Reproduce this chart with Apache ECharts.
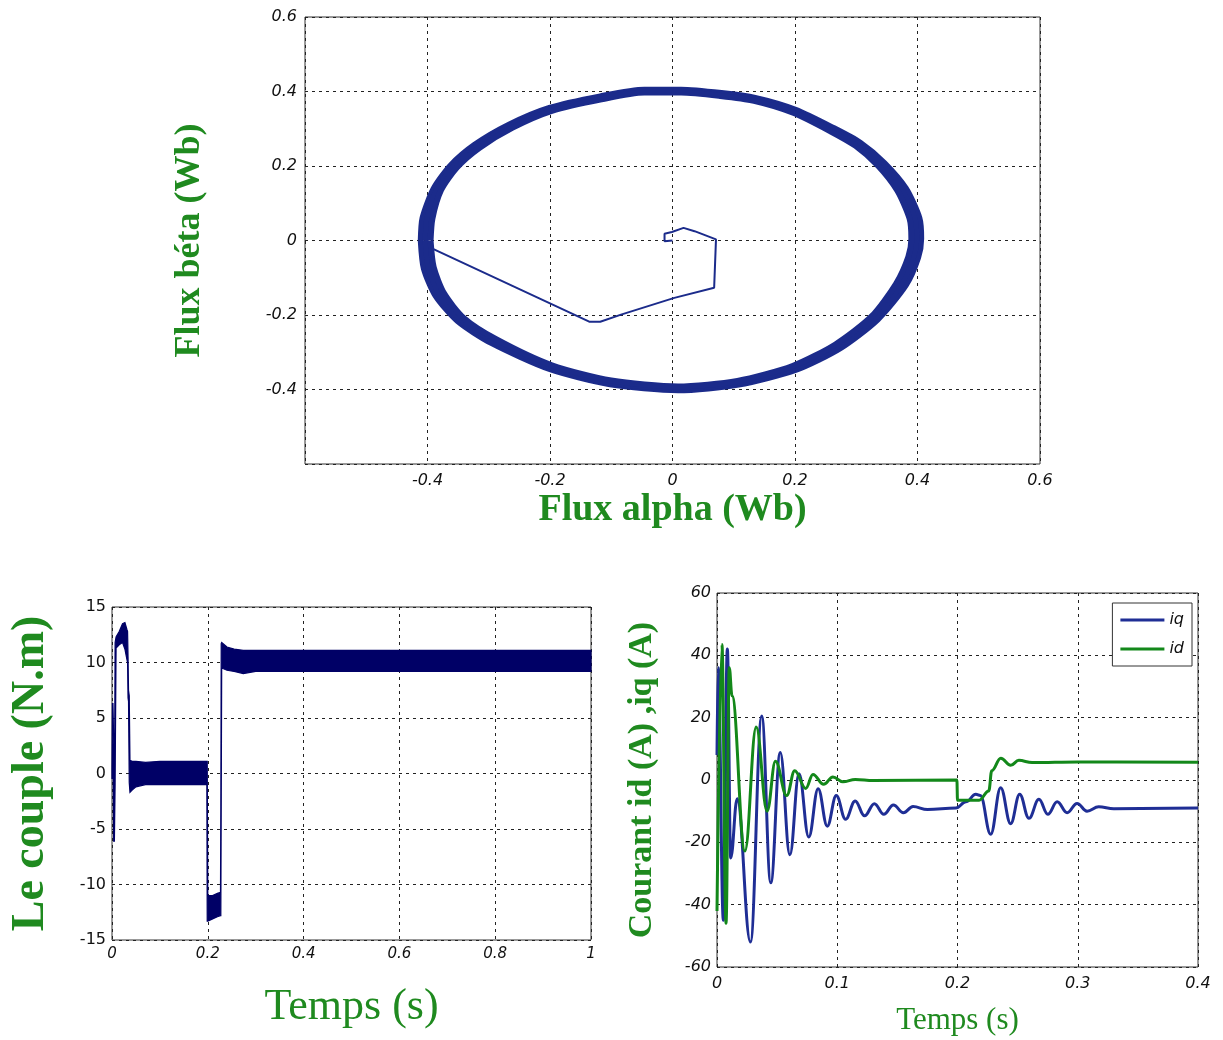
<!DOCTYPE html>
<html>
<head>
<meta charset="utf-8">
<title>Flux, couple et courants</title>
<script src="https://cdn.jsdelivr.net/npm/echarts@6/dist/echarts.min.js"></script>
<style>
  html, body { margin: 0; padding: 0; background: #ffffff; }
  #main { width: 1223px; height: 1040px; }
</style>
</head>
<body>
<div id="main"></div>
<script>
// ---- Stator flux trajectory (alpha, beta) in Wb ----
// start-up path from the origin until the flux reaches its circle
const fluxStart = [
  [0.000, 0.000], [-0.013, -0.002], [-0.013, 0.018], [-0.001, 0.023],
  [0.018, 0.034], [0.036, 0.025], [0.071, 0.003], [0.068, -0.127],
  [0.003, -0.154], [-0.084, -0.199], [-0.118, -0.218], [-0.136, -0.218],
  [-0.392, -0.022]
];
// steady-state flux ring: outer edge, centre line and inner edge
const fluxRingOuter = [
  [-0.411, 0.000], [-0.406, -0.075], [-0.387, -0.148], [-0.351, -0.216],
  [-0.296, -0.275], [-0.201, -0.345], [-0.102, -0.386], [0.009, -0.402],
  [0.108, -0.387], [0.202, -0.347], [0.274, -0.289], [0.335, -0.212],
  [0.381, -0.120], [0.401, -0.046], [0.406, 0.005], [0.403, 0.061],
  [0.381, 0.140], [0.346, 0.208], [0.307, 0.262], [0.263, 0.302],
  [0.201, 0.351], [0.135, 0.383], [0.080, 0.396], [0.014, 0.405],
  [-0.046, 0.405], [-0.118, 0.387], [-0.201, 0.356], [-0.267, 0.311],
  [-0.323, 0.257], [-0.362, 0.202], [-0.390, 0.139], [-0.408, 0.061],
  [-0.411, 0.000]
];
const fluxRingMid = [
  [-0.403, 0.000], [-0.398, -0.073], [-0.380, -0.145], [-0.346, -0.212],
  [-0.292, -0.270], [-0.199, -0.340], [-0.101, -0.381], [0.009, -0.397],
  [0.107, -0.382], [0.199, -0.342], [0.270, -0.284], [0.330, -0.208],
  [0.373, -0.118], [0.393, -0.045], [0.398, 0.005], [0.395, 0.060],
  [0.374, 0.137], [0.341, 0.204], [0.303, 0.258], [0.260, 0.298],
  [0.199, 0.347], [0.134, 0.379], [0.079, 0.392], [0.014, 0.401],
  [-0.046, 0.401], [-0.117, 0.383], [-0.199, 0.352], [-0.264, 0.307],
  [-0.319, 0.253], [-0.357, 0.199], [-0.384, 0.137], [-0.400, 0.060],
  [-0.403, 0.000]
];
const fluxRingInner = [
  [-0.395, 0.000], [-0.390, -0.071], [-0.373, -0.142], [-0.341, -0.208],
  [-0.288, -0.265], [-0.197, -0.335], [-0.100, -0.376], [0.009, -0.392],
  [0.106, -0.377], [0.196, -0.337], [0.266, -0.279], [0.325, -0.204],
  [0.365, -0.116], [0.385, -0.044], [0.390, 0.005], [0.387, 0.059],
  [0.367, 0.134], [0.336, 0.200], [0.299, 0.254], [0.257, 0.294],
  [0.197, 0.343], [0.133, 0.375], [0.078, 0.388], [0.014, 0.397],
  [-0.046, 0.397], [-0.116, 0.379], [-0.197, 0.348], [-0.261, 0.303],
  [-0.315, 0.249], [-0.352, 0.196], [-0.378, 0.135], [-0.392, 0.059],
  [-0.395, 0.000]
];

// ---- Electromagnetic torque (N.m): ripple band, lower and upper envelope ----
const torqueTime = [0, 0.001, 0.002, 0.0035, 0.005, 0.0065, 0.0085, 0.015, 0.022, 0.027,
  0.031, 0.0325, 0.0335, 0.0345, 0.036, 0.0375, 0.042, 0.05, 0.07, 0.1,
  0.198, 0.1988, 0.2, 0.21, 0.22, 0.2265, 0.2272, 0.228, 0.229, 0.24,
  0.255, 0.274, 0.3, 1.0];
const torqueLow = [-0.5, 1.5, 2.7, -6.1, -6.1, -1.0, 11.3, 11.6, 11.8, 11.2,
  10.3, 10.0, 6.8, 6.5, -0.8, -1.7, -1.5, -1.2, -1.0, -1.0,
  -1.0, -13.3, -13.3, -13.1, -12.9, -12.8, -12.8, -3.0, 9.5, 9.3,
  9.2, 9.0, 9.2, 9.2];
const torqueHigh = [0.5, 6.3, 6.3, 3.0, -4.0, 11.8, 12.3, 12.8, 13.5, 13.6,
  13.0, 12.8, 10.5, 7.5, 7.0, 1.2, 1.1, 1.1, 1.0, 1.1,
  1.1, 1.1, -11.0, -11.0, -10.8, -10.7, -3.0, 11.7, 11.8, 11.4,
  11.2, 11.1, 11.1, 11.1];

// ---- d-q currents (A) ----
const iqData = [
  [0, 8], [0.001, 36], [0.0053, -45], [0.0086, 42], [0.0114, -25],
  [0.0168, -6], [0.0278, -52], [0.0372, 20.5], [0.0447, -33], [0.0526, 8.8],
  [0.0606, -24], [0.0682, 2], [0.0763, -18.3], [0.0841, -2.8], [0.0917, -14.8],
  [0.0992, -5], [0.1069, -12.6], [0.1149, -6.7], [0.1227, -11.5], [0.1309, -7.6],
  [0.1387, -11], [0.1467, -8], [0.155, -10.5], [0.163, -8.5], [0.175, -9.5],
  [0.1986, -9], [0.207, -7], [0.2152, -4.6], [0.219, -5], [0.2276, -17.4],
  [0.2359, -2.5], [0.2442, -14], [0.2517, -4.6], [0.2594, -12.3], [0.2677, -6.2],
  [0.2751, -11], [0.2829, -7], [0.2912, -10.5], [0.2994, -7.5], [0.3077, -10],
  [0.3174, -8.6], [0.33, -9.2], [0.4, -9]
];
const idData = [
  [0, -42], [0.0041, 43.5], [0.0075, -46], [0.0102, 36], [0.0125, 27],
  [0.0232, -22.8], [0.0326, 17], [0.0417, -10], [0.0486, 6], [0.058, -5],
  [0.0646, 3], [0.0738, -2.7], [0.0798, 1.8], [0.0887, -1.4], [0.0964, 1],
  [0.1047, -0.6], [0.115, 0.2], [0.13, -0.2], [0.1995, 0], [0.2, -6.5],
  [0.218, -6.5], [0.226, -3.5], [0.2285, 3], [0.236, 7], [0.2442, 4.7],
  [0.251, 6.3], [0.262, 5.6], [0.3, 5.8], [0.4, 5.7]
];

const GREEN = '#1f8a1f';
const FLUX_BLUE = '#1b2b8b';
const titleFont = 'Liberation Serif';
const tickFont = 'DejaVu Sans';

function num(v) {
  return String(Math.round(v * 100) / 100);
}
const dashed = { show: true, lineStyle: { color: '#222', type: [3, 4], width: 1 } };

function ringSeries(name, data) {
  return {
    name: name, type: 'line', xAxisIndex: 0, yAxisIndex: 0,
    data: data, symbol: 'none', smooth: 0.25, silent: true,
    lineStyle: { color: FLUX_BLUE, width: 6 }
  };
}

const chart = echarts.init(document.getElementById('main'), null, { renderer: 'canvas' });

chart.setOption({
  animation: false,
  backgroundColor: '#ffffff',
  grid: [
    { left: 305, top: 17, width: 735, height: 447, show: true, borderColor: '#333', borderWidth: 1, backgroundColor: 'transparent' },
    { left: 112, top: 607, width: 479, height: 333, show: true, borderColor: '#333', borderWidth: 1, backgroundColor: 'transparent' },
    { left: 717, top: 593, width: 481, height: 374, show: true, borderColor: '#333', borderWidth: 1, backgroundColor: 'transparent' }
  ],
  xAxis: [
    {
      gridIndex: 0, type: 'value', min: -0.6, max: 0.6, interval: 0.2,
      axisLine: { show: false }, axisTick: { show: false }, splitLine: dashed,
      axisLabel: { showMinLabel: false, margin: 9, fontFamily: tickFont, fontStyle: 'italic', fontSize: 16, color: '#111', formatter: num },
      name: 'Flux alpha (Wb)', nameLocation: 'middle', nameGap: 27,
      nameTextStyle: { fontFamily: titleFont, fontWeight: 'bold', fontSize: 38, color: GREEN }
    },
    {
      gridIndex: 1, type: 'value', min: 0, max: 1, interval: 0.2,
      axisLine: { show: false }, axisTick: { show: false }, splitLine: dashed,
      axisLabel: { margin: 7, fontFamily: tickFont, fontStyle: 'italic', fontSize: 15, color: '#111', formatter: num },
      name: 'Temps (s)', nameLocation: 'middle', nameGap: 45,
      nameTextStyle: { fontFamily: titleFont, fontSize: 44, color: GREEN }
    },
    {
      gridIndex: 2, type: 'value', min: 0, max: 0.4, interval: 0.1,
      axisLine: { show: false }, axisTick: { show: false }, splitLine: dashed,
      axisLabel: { margin: 9, fontFamily: tickFont, fontStyle: 'italic', fontSize: 16, color: '#111', formatter: num },
      name: 'Temps (s)', nameLocation: 'middle', nameGap: 38,
      nameTextStyle: { fontFamily: titleFont, fontSize: 31, color: GREEN }
    }
  ],
  yAxis: [
    {
      gridIndex: 0, type: 'value', min: -0.6, max: 0.6, interval: 0.2,
      axisLine: { show: false }, axisTick: { show: false }, splitLine: dashed,
      axisLabel: { showMinLabel: false, margin: 8, fontFamily: tickFont, fontStyle: 'italic', fontSize: 16, color: '#111', formatter: num },
      name: 'Flux béta (Wb)', nameLocation: 'middle', nameGap: 97,
      nameTextStyle: { fontFamily: titleFont, fontWeight: 'bold', fontSize: 36, color: GREEN }
    },
    {
      gridIndex: 1, type: 'value', min: -15, max: 15, interval: 5,
      axisLine: { show: false }, axisTick: { show: false }, splitLine: dashed,
      axisLabel: { margin: 6, fontFamily: tickFont, fontSize: 16, color: '#111' },
      name: 'Le couple (N.m)', nameLocation: 'middle', nameGap: 58,
      nameTextStyle: { fontFamily: titleFont, fontWeight: 'bold', fontSize: 46, color: GREEN }
    },
    {
      gridIndex: 2, type: 'value', min: -60, max: 60, interval: 20,
      axisLine: { show: false }, axisTick: { show: false }, splitLine: dashed,
      axisLabel: { margin: 6, fontFamily: tickFont, fontStyle: 'italic', fontSize: 16, color: '#111' },
      name: 'Courant id (A) ,iq (A)', nameLocation: 'middle', nameGap: 58,
      nameTextStyle: { fontFamily: titleFont, fontWeight: 'bold', fontSize: 34, color: GREEN }
    }
  ],
  legend: {
    data: [{ name: 'iq', icon: 'rect' }, { name: 'id', icon: 'rect' }],
    orient: 'vertical',
    right: 31, top: 603,
    itemWidth: 44, itemHeight: 3, itemGap: 13,
    padding: [9, 8, 9, 8],
    backgroundColor: '#ffffff',
    borderColor: '#333', borderWidth: 1, borderRadius: 0,
    textStyle: { fontFamily: tickFont, fontStyle: 'italic', fontSize: 16, color: '#111' }
  },
  series: [
    {
      name: 'flux-start', type: 'line', xAxisIndex: 0, yAxisIndex: 0,
      data: fluxStart, symbol: 'none', silent: true,
      lineStyle: { color: FLUX_BLUE, width: 2 }
    },
    ringSeries('flux-outer', fluxRingOuter),
    ringSeries('flux-mid', fluxRingMid),
    ringSeries('flux-inner', fluxRingInner),
    {
      name: 'couple', type: 'custom', xAxisIndex: 1, yAxisIndex: 1,
      coordinateSystem: 'cartesian2d', silent: true,
      data: [[0, 0]],
      renderItem: function (params, api) {
        const pts = [];
        for (let i = 0; i < torqueTime.length; i++) {
          pts.push(api.coord([torqueTime[i], torqueHigh[i]]));
        }
        for (let i = torqueTime.length - 1; i >= 0; i--) {
          pts.push(api.coord([torqueTime[i], torqueLow[i]]));
        }
        return {
          type: 'polygon',
          shape: { points: pts },
          style: { fill: '#000066', stroke: '#000066', lineWidth: 1.2 }
        };
      }
    },
    {
      name: 'iq', type: 'line', xAxisIndex: 2, yAxisIndex: 2,
      data: iqData, symbol: 'none', smooth: 0.4, smoothMonotone: 'x',
      color: '#1f2e95',
      lineStyle: { color: '#1f2e95', width: 3 }
    },
    {
      name: 'id', type: 'line', xAxisIndex: 2, yAxisIndex: 2,
      data: idData, symbol: 'none', smooth: 0.4, smoothMonotone: 'x',
      color: '#13881a',
      lineStyle: { color: '#13881a', width: 3 }
    }
  ]
});
</script>
</body>
</html>
